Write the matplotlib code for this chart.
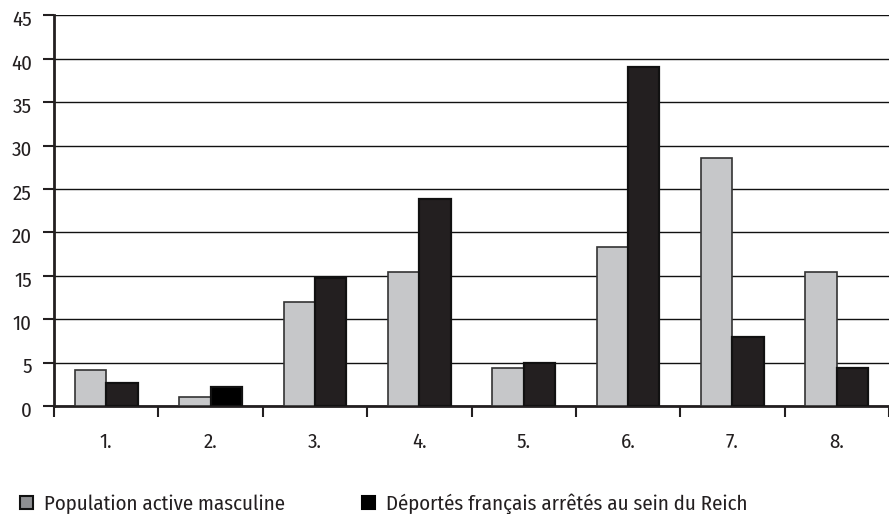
import numpy as np
import matplotlib
matplotlib.use("Agg")
import matplotlib.pyplot as plt
from matplotlib.patches import Patch
from matplotlib.transforms import ScaledTranslation

plt.rcParams['font.family'] = ['Fira Sans Condensed', 'DejaVu Sans']

categories = ["1.", "2.", "3.", "4.", "5.", "6.", "7.", "8."]
population = [4.2, 1.1, 12.0, 15.5, 4.4, 18.3, 28.6, 15.5]
deportes = [2.6, 2.2, 14.7, 23.8, 5.0, 39.1, 7.9, 4.4]
labels = ["Population active masculine",
          "Déportés français arrêtés au sein du Reich"]

gray = "#c6c7c9"
dark = "#231f20"
dark_fill = [dark, "#000000", dark, dark, dark, dark, dark, dark]
text_col = "#231f20"

fig = plt.figure(figsize=(8.89, 5.14), dpi=100)
ax = fig.add_axes([54 / 889, 0.210, 1 - 54 / 889, 0.760])

x = np.arange(len(categories))
w = 0.3
ax.bar(x - w / 2, population, w, color=gray, edgecolor="#333333",
       linewidth=1.2, zorder=3)
ax.bar(x + w / 2, deportes, w, color=dark_fill, edgecolor="#111111",
       linewidth=1.6, zorder=3)

ax.set_xlim(-0.5, len(categories) - 0.5)
ax.set_ylim(0, 45)
ax.set_yticks(range(0, 46, 5))
ax.tick_params(axis='y', labelsize=15, length=8, width=1.5, direction='out',
               pad=8, colors=text_col)
ax.yaxis.grid(True, color="#111111", linewidth=1.0, zorder=0)
shift = ScaledTranslation(0, -3 / 100, fig.dpi_scale_trans)
for lab in ax.get_yticklabels():
    lab.set_transform(lab.get_transform() + shift)

# category boundaries carry the ticks, labels sit at the centres
ax.set_xticks(np.arange(-0.5, len(categories), 1.0))
ax.set_xticklabels([])
ax.set_xticks(x, minor=True)
ax.set_xticklabels(categories, minor=True)
ax.tick_params(axis='x', which='major', length=8, width=1.5, direction='out',
               color=text_col)
ax.tick_params(axis='x', which='minor', length=0, labelsize=15, pad=19,
               colors=text_col)

for side in ("top", "right"):
    ax.spines[side].set_visible(False)
for side in ("left", "bottom"):
    ax.spines[side].set_linewidth(2)
    ax.spines[side].set_color(text_col)
ax.set_axisbelow(True)

handles = [Patch(facecolor="#8e8f92", edgecolor="#111111", linewidth=1.5),
           Patch(facecolor="#000000", edgecolor="#000000", linewidth=1.5)]
common = dict(loc="center left", frameon=False, fontsize=15,
              handlelength=0.62, handleheight=0.62, handletextpad=0.55,
              borderpad=0, borderaxespad=0, labelcolor=text_col)
fig.legend([handles[0]], [labels[0]],
           bbox_to_anchor=(20 / 889, 0.0195), **common)
fig.legend([handles[1]], [labels[1]],
           bbox_to_anchor=(362 / 889, 0.0195), **common)

fig.savefig("out.png", dpi=100)
